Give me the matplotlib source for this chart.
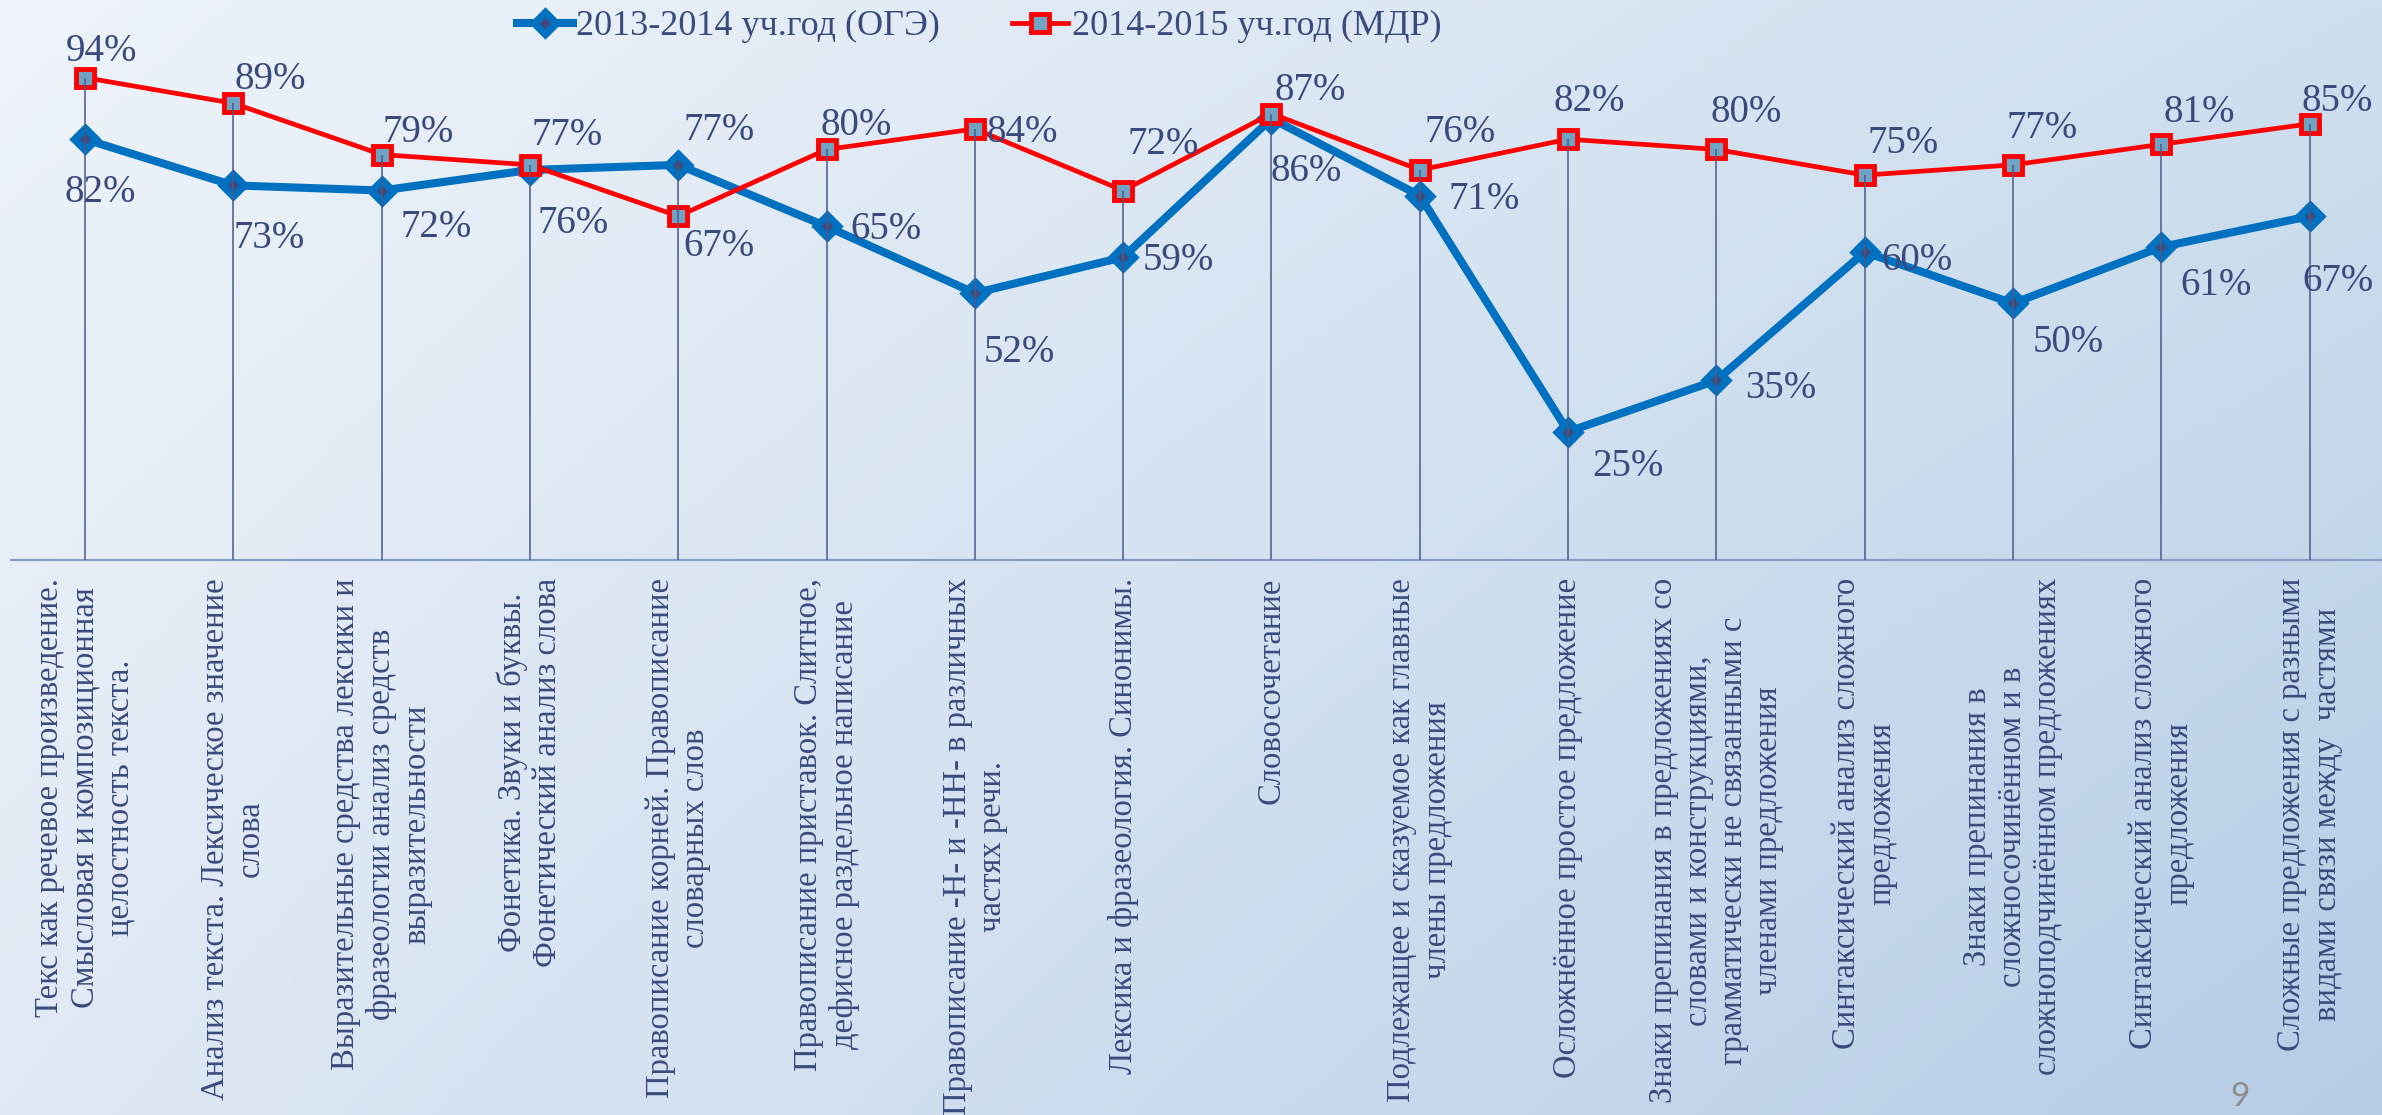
import numpy as np
import matplotlib.pyplot as plt

plt.rcParams['font.family'] = ['Liberation Serif', 'DejaVu Serif']

# slide 9: results per topic, two school years
topics = [
    'Текс как речевое произведение.\nСмысловая и композиционная\nцелостность текста.',
    'Анализ текста. Лексическое значение\nслова',
    'Выразительные средства лексики и\nфразеологии анализ средств\nвыразительности',
    'Фонетика. Звуки и буквы.\nФонетический анализ слова',
    'Правописание корней. Правописание\nсловарных слов',
    'Правописание приставок. Слитное,\nдефисное раздельное написание',
    'Правописание -Н- и -НН- в различных\nчастях речи.',
    'Лексика и фразеология. Синонимы.',
    'Словосочетание',
    'Подлежащее и сказуемое как главные\nчлены предложения',
    'Осложнённое простое предложение',
    'Знаки препинания в предложениях со\nсловами и конструкциями,\nграмматически не связанными с\nчленами предложения',
    'Синтаксический анализ сложного\nпредложения',
    'Знаки препинания в\nсложносочинённом и в\nсложноподчинённом предложениях',
    'Синтаксический анализ сложного\nпредложения',
    'Сложные предложения с разными\nвидами связи между  частями',
]
oge_2014 = [82, 73, 72, 76, 77, 65, 52, 59, 86, 71, 25, 35, 60, 50, 61, 67]
mdr_2015 = [94, 89, 79, 77, 67, 80, 84, 72, 87, 76, 82, 80, 75, 77, 81, 85]
series_names = ['2013-2014 уч.год (ОГЭ)', '2014-2015 уч.год (МДР)']

# hand-placed data label nudges (pixels, dx / dy up) as on the slide
oge_offsets = [(15, -50), (36, -50), (55, -33), (43, -50), (41, 38), (59, 0),
               (44, -56), (55, 0), (35, -49), (64, 0), (60, -31), (64, -5),
               (52, -5), (55, -36), (55, -35), (28, -62)]
mdr_offsets = [(16, 30), (37, 27), (37, 26), (37, 33), (41, -27), (30, 27),
               (47, 0), (40, 50), (39, 27), (40, 41), (21, 41), (30, 40),
               (38, 35), (29, 40), (38, 35), (28, 26)]

txt_col = '#3b4a7d'

fig = plt.figure(figsize=(23.82, 11.15), dpi=100)

# slide background, light to pale blue towards the bottom right
bg = fig.add_axes([0, 0, 1, 1], zorder=-10)
bg.axis('off')
gx, gy = np.meshgrid(np.linspace(0, 1, 400), np.linspace(0, 1, 200))
tl = np.array([0xef, 0xf4, 0xfa]) / 255
tr = np.array([0xcf, 0xdf, 0xee]) / 255
bl = np.array([0xe0, 0xe9, 0xf4]) / 255
br = np.array([0xb6, 0xcd, 0xe7]) / 255
img = (tl * ((1 - gx) * (1 - gy))[..., None] + tr * (gx * (1 - gy))[..., None]
       + bl * ((1 - gx) * gy)[..., None] + br * (gx * gy)[..., None])
bg.imshow(img, aspect='auto', extent=[0, 1, 0, 1])
bg.set_xlim(0, 1)
bg.set_ylim(0, 1)

ax = fig.add_axes([0.00456, 0.4978, 0.9962, 0.4602])
ax.patch.set_alpha(0)
x = np.arange(len(topics))

ax.vlines(x, 0, np.maximum(oge_2014, mdr_2015), color='#4a5a8a', lw=1.1, zorder=6)

ax.plot(x, oge_2014, color='#0070c0', lw=5.8, marker='D', ms=11,
        mfc='#3d4b7e', mec='#0070c0', mew=5.3, label=series_names[0], zorder=3)
ax.plot(x, mdr_2015, color='#ff0000', lw=3.4, marker='s', ms=12.5,
        mfc='#6fa3c3', mec='#ff0000', mew=3.5, label=series_names[1], zorder=4)

for i in range(len(x)):
    for vals, offs in ((oge_2014, oge_offsets), (mdr_2015, mdr_offsets)):
        dx, dy = offs[i]
        ax.annotate(f'{vals[i]}%', (x[i], vals[i]), xytext=(dx, dy - 13),
                    textcoords='offset pixels', ha='center', va='baseline',
                    fontsize=28, color=txt_col, zorder=8)

ax.set_xlim(-0.5, len(topics) - 0.5)
ax.set_ylim(0, 100)
ax.set_yticks([])
for s in ['top', 'right', 'left']:
    ax.spines[s].set_visible(False)
ax.spines['bottom'].set_color('#8b9cc4')
ax.spines['bottom'].set_linewidth(1.6)
ax.set_xticks(x)
ax.set_xticklabels(topics, rotation=90, va='top', ha='center',
                   multialignment='center', fontsize=23.5, color=txt_col,
                   linespacing=1.2)
ax.tick_params(axis='x', length=0, pad=13)

leg = ax.legend(loc='center', bbox_to_anchor=(0.411, 0.976),
                bbox_transform=fig.transFigure, ncol=2, frameon=False,
                fontsize=26, handlelength=1.55, handletextpad=0.1,
                columnspacing=2.0, numpoints=1)
for t in leg.get_texts():
    t.set_color(txt_col)

fig.text(0.9405, 1 - 1082 / 1115, '9', fontsize=24, color='#8c8c8c',
         family='Lato', ha='center', va='top')

fig.savefig('out.png', dpi=100)
